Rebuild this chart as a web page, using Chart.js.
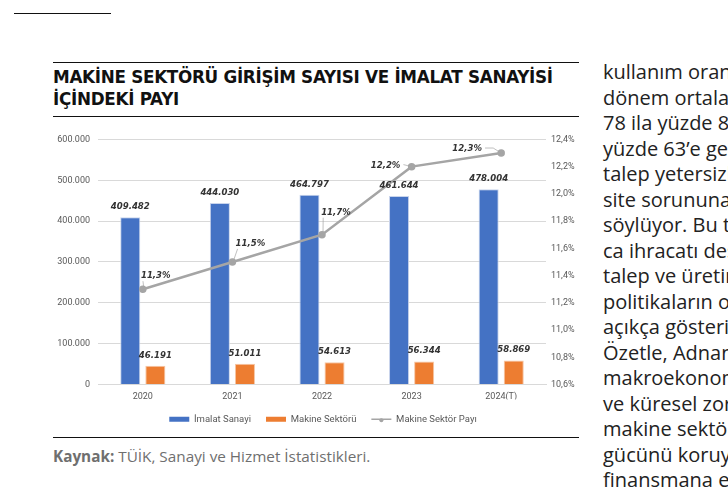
<!DOCTYPE html>
<html lang="tr">
<head>
<meta charset="utf-8">
<script src="https://cdn.jsdelivr.net/npm/chart.js@4"></script>
<style>
  html, body { margin: 0; padding: 0; background: #fff; overflow: hidden; }
  body { width: 728px; height: 487px; position: relative; }
  .topline { position: absolute; left: 14px; top: 13px; width: 97px; border-top: 1.5px solid #111; }
  .rule { position: absolute; left: 53px; width: 526px; border-top: 1.5px solid #111; }
  .title { position: absolute; left: 53px; top: 66px; width: 540px; font-family: "DejaVu Sans", sans-serif; font-weight: bold; font-size: 16.8px; line-height: 22px; color: #111; letter-spacing: -0.3px; }
  .chartbox { position: absolute; left: 53px; top: 126px; width: 540px; height: 308px; }
  .source { position: absolute; left: 53px; top: 446px; font-family: "Open Sans", sans-serif; font-size: 15.3px; color: #6f6f6f; white-space: nowrap; }
  .source b { color: #6f6f6f; }
  .body { position: absolute; left: 603px; top: 59px; width: 300px; font-family: "Open Sans", sans-serif; font-size: 20px; line-height: 25.5px; color: #222; white-space: nowrap; }
</style>
</head>
<body>
<div class="topline"></div>
<div class="rule" style="top:62px"></div>
<div class="title">MAKİNE SEKTÖRÜ GİRİŞİM SAYISI VE İMALAT SANAYİSİ<br>İÇİNDEKİ PAYI</div>
<div class="rule" style="top:116px"></div>
<div class="chartbox"><canvas id="chart"></canvas></div>
<div class="rule" style="top:437px"></div>
<div class="source"><b>Kaynak:</b> TÜİK, Sanayi ve Hizmet İstatistikleri.</div>
<div class="body">
kullanım oranı<br>
dönem ortalaması<br>
78 ila yüzde 80<br>
yüzde 63’e geriledi<br>
talep yetersizliği<br>
site sorununa<br>
söylüyor. Bu tablo<br>
ca ihracatı destek<br>
talep ve üretim<br>
politikaların olumsuz<br>
açıkça gösteriyor<br>
Özetle, Adnan<br>
makroekonomik<br>
ve küresel zorluklar<br>
makine sektörü<br>
gücünü koruyor<br>
finansmana erişim
</div>

<script>
const years = ['2020', '2021', '2022', '2023', '2024(T)'];
const imalatSanayi = [409482, 444030, 464797, 461644, 478004];
const makineSektoru = [46191, 51011, 54613, 56344, 58869];
const makinePayi = [11.3, 11.5, 11.7, 12.2, 12.3];
const leftTicks = [0, 100000, 200000, 300000, 400000, 500000, 600000];
const rightTicks = [10.6, 10.8, 11.0, 11.2, 11.4, 11.6, 11.8, 12.0, 12.2, 12.4];

const tickColor = '#595959';
const tickFont = { family: 'Roboto', size: 9 };

function fmtThousands(v) {
    return String(Math.round(v)).replace(/\B(?=(\d{3})+(?!\d))/g, '.');
}
function fmtPct(v) {
    return v.toFixed(1).replace('.', ',') + '%';
}

// value labels, bars above, line labels offset with leader lines (Excel style)
const valueLabels = {
    id: 'valueLabels',
    afterDatasetsDraw(chart, args, opts) {
        const ctx = chart.ctx;
        ctx.save();
        ctx.font = 'italic bold 9.5px "DejaVu Sans Condensed", "DejaVu Sans", sans-serif';
        ctx.fillStyle = '#333';
        ctx.textAlign = 'center';
        ctx.textBaseline = 'alphabetic';
        [0, 1].forEach(di => {
            const meta = chart.getDatasetMeta(di);
            meta.data.forEach((bar, i) => {
                ctx.fillText(fmtThousands(chart.data.datasets[di].data[i]), bar.x, bar.y - 8);
            });
        });
        const lm = chart.getDatasetMeta(2);
        lm.data.forEach((pt, i) => {
            const [dx, dy] = opts.lineOffsets[i];
            const tx = pt.x + dx, ty = pt.y + dy;
            const txt = fmtPct(chart.data.datasets[2].data[i]);
            const w = ctx.measureText(txt).width;
            ctx.strokeStyle = '#a5a5a5';
            ctx.lineWidth = 0.7;
            ctx.beginPath();
            if (dx < 0) {
                ctx.moveTo(tx + w / 2 + 3, ty - 3);
                ctx.lineTo(pt.x - 8, ty - 3);
                ctx.lineTo(pt.x, pt.y);
            } else {
                ctx.moveTo(tx - w / 2 + 2, ty + 3);
                ctx.lineTo(pt.x + 1, pt.y - 1);
            }
            ctx.stroke();
            ctx.fillText(txt, tx, ty);
        });
        ctx.restore();
    },
    // small dot on the line legend symbol
    afterDraw(chart) {
        const boxes = chart.legend && chart.legend.legendHitBoxes;
        if (!boxes || !boxes[2]) return;
        const b = boxes[2];
        const ctx = chart.ctx;
        ctx.save();
        ctx.fillStyle = '#A5A5A5';
        ctx.beginPath();
        ctx.arc(b.left + 10, b.top + b.height / 2 + 1, 2, 0, Math.PI * 2);
        ctx.fill();
        ctx.restore();
    }
};

const ctx = document.getElementById('chart').getContext('2d');
new Chart(ctx, {
    data: {
        labels: years,
        datasets: [{
            type: 'bar',
            label: 'İmalat Sanayi',
            data: imalatSanayi,
            backgroundColor: '#4472C4',
            borderColor: '#c8d4ec',
            borderWidth: 1,
            barPercentage: 0.8,
            categoryPercentage: 0.56,
            yAxisID: 'y',
            order: 2
        }, {
            type: 'bar',
            label: 'Makine Sektörü',
            data: makineSektoru,
            backgroundColor: '#ED7D31',
            borderColor: '#f6c6a5',
            borderWidth: 1,
            barPercentage: 0.8,
            categoryPercentage: 0.56,
            yAxisID: 'y',
            order: 2
        }, {
            type: 'line',
            label: 'Makine Sektör Payı',
            data: makinePayi,
            borderColor: '#A5A5A5',
            backgroundColor: '#A5A5A5',
            borderWidth: 2.5,
            pointRadius: 2.5,
            pointBackgroundColor: '#A5A5A5',
            tension: 0,
            yAxisID: 'y1',
            order: 1
        }]
    },
    options: {
        responsive: true,
        maintainAspectRatio: false,
        animation: false,
        layout: { padding: { top: 13, bottom: 0, left: 0, right: 0 } },
        plugins: {
            legend: {
                position: 'bottom',
                labels: {
                    color: tickColor,
                    font: { family: 'Roboto', size: 9.5 },
                    boxWidth: 15,
                    boxHeight: 5,
                    padding: 15,
                    usePointStyle: true,
                    pointStyleWidth: 20,
                    sort: (a, b) => a.datasetIndex - b.datasetIndex,
                    generateLabels: chart => {
                        const items = Chart.defaults.plugins.legend.labels.generateLabels(chart);
                        items.forEach(it => {
                            if (it.datasetIndex === 2) {
                                it.pointStyle = 'line';
                                it.lineWidth = 1.5;
                                it.strokeStyle = '#A5A5A5';
                            } else {
                                it.pointStyle = 'rect';
                                it.lineWidth = 0;
                            }
                        });
                        return items;
                    }
                }
            },
            tooltip: { enabled: false },
            valueLabels: {
                lineOffsets: [[13, -11], [18, -16], [14, -20], [-26, 1], [-34, -2]]
            }
        },
        scales: {
            x: {
                grid: { display: false, drawTicks: false },
                border: { color: '#d9d9d9' },
                afterFit: s => { s.height = 15; },
                ticks: { color: tickColor, font: tickFont, padding: 7 }
            },
            y: {
                position: 'left',
                min: 0,
                max: 600000,
                afterBuildTicks: s => { s.ticks = leftTicks.map(v => ({ value: v })); },
                afterFit: s => { s.width = 45; },
                grid: { color: '#d9d9d9', drawTicks: false },
                border: { display: false },
                ticks: { color: tickColor, font: tickFont, padding: 8, callback: v => fmtThousands(v) }
            },
            y1: {
                position: 'right',
                min: 10.6,
                max: 12.4,
                afterBuildTicks: s => { s.ticks = rightTicks.map(v => ({ value: v })); },
                afterFit: s => { s.width = 47; },
                grid: { display: false, drawTicks: false },
                border: { display: false },
                ticks: { color: tickColor, font: tickFont, padding: 5, callback: v => fmtPct(v) }
            }
        }
    },
    plugins: [valueLabels]
});
</script>
</body>
</html>
